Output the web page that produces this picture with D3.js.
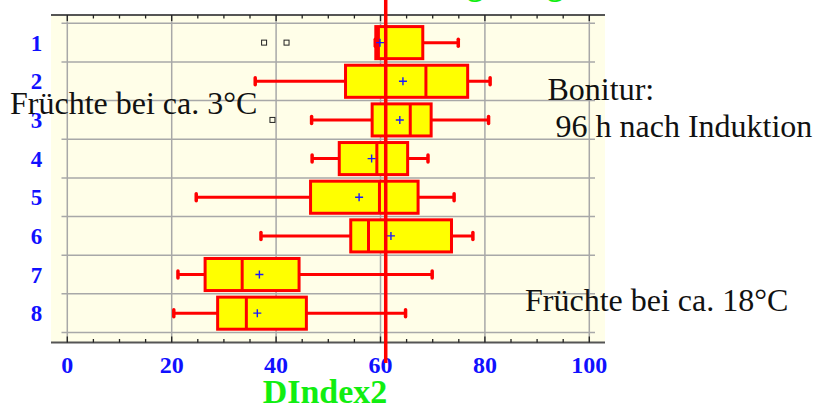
<!DOCTYPE html>
<html>
<head>
<meta charset="utf-8">
<script src="https://cdn.jsdelivr.net/npm/d3@7"></script>
<style>
  body { margin: 0; background: #fff; }
  text { font-family: "Liberation Serif", "Times New Roman", serif; }
</style>
</head>
<body>
<div id="chart-area"></div>
<script>
// data
var groups = ["1", "2", "3", "4", "5", "6", "7", "8"];
var whiskerLow  = [59.0, 36.0, 46.8, 46.9, 24.7, 37.1, 21.2, 20.4];
var q1          = [59.1, 53.3, 58.4, 52.1, 46.6, 54.3, 26.4, 28.8];
var median      = [59.6, 68.7, 65.7, 59.3, 59.8, 57.7, 33.5, 34.3];
var q3          = [68.1, 76.7, 69.7, 65.2, 67.2, 73.6, 44.4, 45.8];
var whiskerHigh = [74.9, 81.0, 80.7, 69.1, 74.1, 77.7, 69.9, 64.8];
var means       = [59.9, 64.3, 63.7, 58.3, 55.9, 62.0, 36.8, 36.4];
var outliers = [
  {group: "1", value: 37.7},
  {group: "1", value: 42.0},
  {group: "3", value: 39.3}
];
var xTicks = [0, 20, 40, 60, 80, 100];
var refValue = 61;

var data = groups.map(function(g, i) {
  return {group: g, lo: whiskerLow[i], q1: q1[i], med: median[i], q3: q3[i], hi: whiskerHigh[i], mean: means[i]};
});

var width = 817, height = 409;

var svg = d3.select("#chart-area")
  .append("svg")
  .attr("width", width)
  .attr("height", height);

// scales
var xScale = d3.scaleLinear()
  .domain([0, 100])
  .range([67.3, 589.3]);

var yScale = d3.scaleBand()
  .domain(groups)
  .range([23.3, 332.5]);

var bw = yScale.bandwidth();
var boxH = bw * 0.83;

var plotLeft = 51, plotRight = 605, plotTop = 15, plotBottom = 342.5;

// background
svg.append("rect")
  .attr("x", plotLeft)
  .attr("y", plotTop)
  .attr("width", plotRight - plotLeft)
  .attr("height", plotBottom - plotTop)
  .attr("fill", "#fffee8");

// vertical grid
svg.append("g")
  .selectAll("line")
  .data(xTicks)
  .enter()
  .append("line")
  .attr("x1", function(d) { return xScale(d); })
  .attr("x2", function(d) { return xScale(d); })
  .attr("y1", plotTop)
  .attr("y2", plotBottom)
  .attr("stroke", "#a8a8a8")
  .attr("stroke-width", 1.5);

// horizontal grid (band edges)
var edges = groups.map(function(g) { return yScale(g); });
edges.push(yScale(groups[groups.length - 1]) + bw);
svg.append("g")
  .selectAll("line")
  .data(edges)
  .enter()
  .append("line")
  .attr("x1", 61.5)
  .attr("x2", 595)
  .attr("y1", function(d) { return d; })
  .attr("y2", function(d) { return d; })
  .attr("stroke", "#a8a8a8")
  .attr("stroke-width", 1.5);

// axes top and bottom, minor tick every 5
var minorTicks = d3.range(0, 101, 5);

function drawAxis(yPos, dir) {
  var g = svg.append("g");
  g.append("line")
    .attr("x1", plotLeft)
    .attr("x2", plotRight)
    .attr("y1", yPos)
    .attr("y2", yPos)
    .attr("stroke", "#555")
    .attr("stroke-width", 2);
  g.selectAll(".tick")
    .data(minorTicks)
    .enter()
    .append("line")
    .attr("class", "tick")
    .attr("x1", function(d) { return xScale(d); })
    .attr("x2", function(d) { return xScale(d); })
    .attr("y1", yPos)
    .attr("y2", function(d) { return yPos + dir * (d % 20 === 0 ? 6 : 3.5); })
    .attr("stroke", "#222")
    .attr("stroke-width", 1.3);
}
drawAxis(plotTop, 1);
drawAxis(plotBottom, -1);

// x tick labels
svg.append("g")
  .selectAll("text")
  .data(xTicks)
  .enter()
  .append("text")
  .attr("x", function(d) { return xScale(d); })
  .attr("y", 373)
  .attr("text-anchor", "middle")
  .attr("font-size", 24)
  .attr("font-weight", "bold")
  .attr("fill", "#1010ff")
  .text(function(d) { return d; });

// y labels
svg.append("g")
  .selectAll("text")
  .data(groups)
  .enter()
  .append("text")
  .attr("x", 36.5)
  .attr("y", function(d) { return yScale(d) + bw / 2 + 8; })
  .attr("text-anchor", "middle")
  .attr("font-size", 23)
  .attr("font-weight", "bold")
  .attr("fill", "#1010ff")
  .text(function(d) { return d; });

// boxes
var boxes = svg.append("g")
  .selectAll("g")
  .data(data)
  .enter()
  .append("g")
  .attr("transform", function(d) { return "translate(0," + (yScale(d.group) + bw / 2) + ")"; });

// whisker lines
boxes.append("line")
  .attr("x1", function(d) { return xScale(d.lo); })
  .attr("x2", function(d) { return xScale(d.hi); })
  .attr("stroke", "red")
  .attr("stroke-width", 3);

// caps
boxes.selectAll(".cap")
  .data(function(d) { return [d.lo, d.hi]; })
  .enter()
  .append("line")
  .attr("class", "cap")
  .attr("x1", function(d) { return xScale(d); })
  .attr("x2", function(d) { return xScale(d); })
  .attr("y1", -3.5)
  .attr("y2", 3.5)
  .attr("stroke", "red")
  .attr("stroke-width", 3.5)
  .attr("stroke-linecap", "round");

boxes.append("rect")
  .attr("x", function(d) { return xScale(d.q1); })
  .attr("width", function(d) { return xScale(d.q3) - xScale(d.q1); })
  .attr("y", -boxH / 2)
  .attr("height", boxH)
  .attr("fill", "#ffff00")
  .attr("stroke", "red")
  .attr("stroke-width", 3);

boxes.append("line")
  .attr("x1", function(d) { return xScale(d.med); })
  .attr("x2", function(d) { return xScale(d.med); })
  .attr("y1", -boxH / 2)
  .attr("y2", boxH / 2)
  .attr("stroke", "red")
  .attr("stroke-width", 3);

// mean marker
boxes.append("path")
  .attr("d", function(d) {
    var x = xScale(d.mean);
    return "M" + (x - 4) + ",0H" + (x + 4) + "M" + x + ",-4V4";
  })
  .attr("stroke", "#1a1aff")
  .attr("stroke-width", 1.4);

// outliers
svg.append("g")
  .selectAll("rect")
  .data(outliers)
  .enter()
  .append("rect")
  .attr("x", function(d) { return xScale(d.value) - 2.5; })
  .attr("y", function(d) { return yScale(d.group) + bw / 2 - 2.5; })
  .attr("width", 5)
  .attr("height", 5)
  .attr("fill", "#fffee8")
  .attr("stroke", "#222")
  .attr("stroke-width", 1);

// reference line
svg.append("line")
  .attr("x1", xScale(refValue))
  .attr("x2", xScale(refValue))
  .attr("y1", 0)
  .attr("y2", 363)
  .attr("stroke", "red")
  .attr("stroke-width", 3.5);

// axis title
svg.append("text")
  .attr("x", 325)
  .attr("y", 403)
  .attr("text-anchor", "middle")
  .attr("font-size", 34)
  .attr("font-weight", "bold")
  .attr("fill", "#11ee11")
  .text("DIndex2");

// clipped title at the top
svg.append("text")
  .attr("x", 430)
  .attr("y", -5)
  .attr("font-size", 32)
  .attr("font-weight", "bold")
  .attr("fill", "#11ee11")
  .text("Lagerung");

// annotations
var notes = [
  {text: "Früchte bei ca. 3°C", x: 10, y: 114},
  {text: "Bonitur:", x: 547.5, y: 100},
  {text: "96 h nach Induktion", x: 555.5, y: 137},
  {text: "Früchte bei ca. 18°C", x: 525, y: 311}
];
svg.append("g")
  .selectAll("text")
  .data(notes)
  .enter()
  .append("text")
  .attr("x", function(d) { return d.x; })
  .attr("y", function(d) { return d.y; })
  .attr("font-size", 32)
  .attr("fill", "#111")
  .text(function(d) { return d.text; });
</script>
</body>
</html>
